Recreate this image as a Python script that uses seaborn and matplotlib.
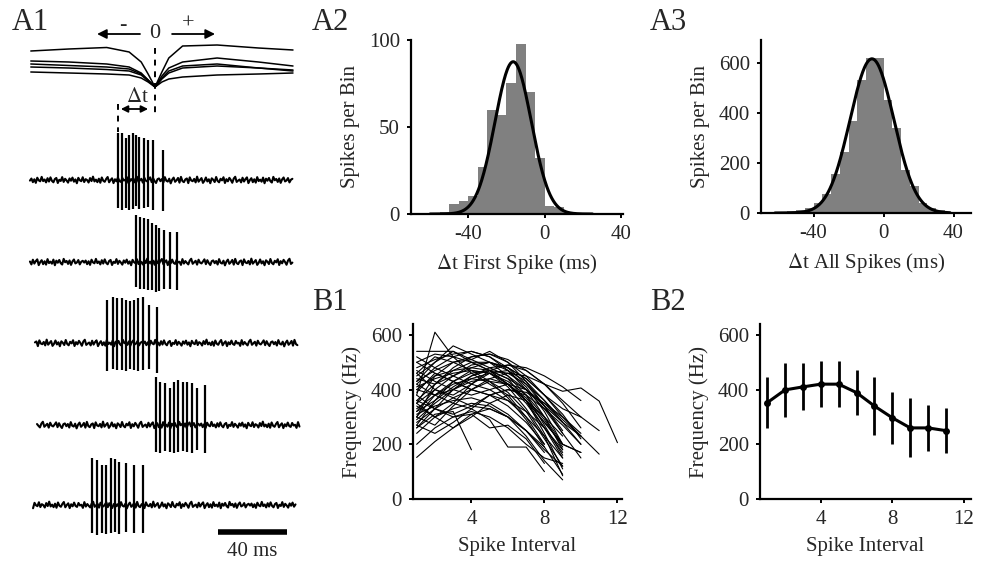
"""
Recreates the spike timing figure: raw burst traces (A1), timing
histograms with gaussian fits (A2, A3) and burst frequency profiles (B1, B2)
Outputs out.png
"""

import matplotlib.pyplot as plt
import numpy as np
import pandas as pd
import seaborn as sns

# ---- A1: stimulus-triggered waveforms (y in trace units, x in ms) ----
wave_t = [-72, -50, -28, -15, -8, -4, 0, 4, 8, 16, 36, 60, 80]
wave_a = [51, 49, 47.5, 52, 62, 74, 87, 72, 58, 46, 45, 48, 50]
wave_b = [61, 62, 64, 67, 73, 80, 87, 76, 68, 62, 58, 62, 66]
wave_c = [64, 65.5, 67, 69, 74, 80, 87, 78, 71, 66, 64, 68, 71]
wave_d = [67, 68, 69.5, 71, 75, 81, 87, 79, 73, 68, 66, 68, 70]
wave_e = [72, 73, 74, 75, 78, 82, 87, 82, 79, 77, 75, 74, 73]

# ---- A1: spike times (ms) and amplitudes for the five traces ----
spike_t1 = [-21.3, -19.3, -16.8, -14.9, -12.9, -11, -9.1, -6.4, -3.9, -1, 4.5]
spike_up1 = [47, 47, 42, 45, 47, 45, 43, 42, 40, 40, 30]
spike_dn1 = [28, 30, 28, 30, 29, 26, 29, 28, 27, 30, 31]
spike_t2 = [-11, -8.7, -6.4, -4.2, -1.9, 0.4, 2.5, 5.2, 8.7, 12.9]
spike_up2 = [47, 45, 44, 43, 39, 37, 34, 32, 30, 30]
spike_dn2 = [25, 27, 27, 28, 28, 30, 29, 27, 27, 28]
spike_t3 = [-28, -24.5, -21.8, -19.3, -16.9, -14.5, -12.2, -9.7, -6.8, -3.3, 1]
spike_up3 = [43, 46, 45, 45, 43, 42, 43, 45, 46, 38, 36]
spike_dn3 = [28, 26, 27, 27, 28, 26, 27, 28, 27, 26, 30]
spike_t4 = [0.4, 2.9, 5.8, 8.7, 11.2, 13.5, 16, 18.7, 21.3, 24.5, 29]
spike_up4 = [48, 43, 42, 37, 43, 45, 43, 43, 42, 37, 40]
spike_dn4 = [27, 28, 26, 27, 28, 27, 26, 27, 28, 25, 28]
spike_t5 = [-36.3, -33.4, -30.9, -28.4, -25.7, -23.2, -20.7, -16.8, -12.2, -6.8]
spike_up5 = [47, 45, 40, 40, 47, 46, 43, 42, 40, 40]
spike_dn5 = [28, 30, 28, 29, 28, 27, 29, 27, 28, 28]

# baseline noise (two stretches, joined end to end)
noise_a = [0.5, -1.2, 1.8, -0.6, 2.4, -1.9, 0.3, 1.1, -2.6, 0.9, -0.4, 2.0,
           -1.5, 1.3, -2.2, 0.7, 1.9, -0.8, -1.7, 2.5, -0.2, 0.8, -2.4, 1.6,
           -1.0, 0.4, 2.2, -1.3, 0.6, -2.0, 1.4, -0.5, 2.7, -1.8, 0.2, 1.0,
           -2.3, 1.7, -0.7, 0.1, 2.1, -1.6, 0.9, -2.8, 1.2, -0.3, 1.8, -1.1,
           2.3, -2.1, 0.6, 1.5, -0.9, -2.5, 1.9, 0.0, -1.4, 2.6, -0.6, 1.1,
           -2.0, 0.8, 1.6, -1.7, 0.4, -0.2, 2.4, -2.4, 1.3, -0.8, 0.7, 2.0,
           -1.2, -2.7, 1.5, 0.3, -1.0, 2.2, -1.9, 0.5, 1.2, -0.4, -2.2, 1.8,
           -1.5, 0.9, 2.5, -0.7, -1.3, 1.0]
noise_b = [-0.8, 2.1, -2.4, 0.6, 1.3, -1.1, 2.8, -0.3, -2.0, 1.5, 0.2, -1.7,
           2.2, -2.6, 0.9, 1.8, -0.5, -1.3, 2.6, -2.2, 0.4, 1.0, -0.9, 2.0,
           -2.8, 1.4, -0.1, -1.6, 2.4, 0.7, -2.1, 1.2, -0.6, 2.7, -1.4, -0.2,
           1.7, -2.5, 0.8, 1.9, -1.0, 0.3, -2.3, 2.5, -0.7, 1.1, -1.8, 0.0,
           2.3, -1.2, -2.7, 1.6, 0.5, -0.4, 2.0, -1.9, 1.3, -0.8, -2.2, 2.6,
           0.1, -1.5, 1.8, -0.6, 2.2, -2.4, 0.9, -0.3, 1.4, -2.0, 2.7, -1.1,
           0.6, -1.7, 1.0, 2.1, -2.6, 0.2, -0.9, 1.6, -1.3, 2.4, -0.5, -2.1,
           1.2, 0.4, -1.6, 2.0, -0.2, -1.0]

# ---- A2: first spike timing histogram (5 ms bins, left edges) ----
a2_bins = [-60, -55, -50, -45, -40, -35, -30, -25, -20, -15, -10, -5,
           0, 5, 10, 15, 20]
a2_counts = [0.5, 1, 5.8, 7.7, 10.6, 27, 59.6, 56.7, 75, 97.7, 70.2, 32,
             4.8, 4.2, 1, 0.6, 0.8]
a2_fit = {"amp": 87.5, "mu": -16.5, "sd": 9.5}

# ---- A3: all spikes timing histogram ----
a3_bins = [-65, -60, -55, -50, -45, -40, -35, -30, -25, -20, -15, -10, -5,
           0, 5, 10, 15, 20, 25, 30, 35]
a3_counts = [3, 5, 8, 10, 20, 40, 77, 156, 245, 368, 532, 618, 618,
             450, 338, 172, 109, 40, 20, 10, 5]
a3_fit = {"amp": 615, "mu": -6.6, "sd": 12.5}

# ---- B1: instantaneous frequency across spike intervals, one per burst ----
b1_bursts = [
    [540, 540, 540, 500, 470, 420, 360, 280, 200],
    [300, 420, 480, 520, 530, 500, 450, 380, 300, 230],
    [350, 450, 500, 510, 540, 500, 430, 340, 240],
    [420, 480, 520, 540, 520, 470, 400, 300, 180],
    [450, 500, 560, 530, 500, 450, 380, 270, 160],
    [380, 610, 520, 460, 420, 380, 300, 200],
    [320, 400, 450, 480, 500, 480, 440, 380, 330, 300, 250],
    [280, 330, 370, 400, 440, 460, 450, 420, 394, 406, 358, 206],
    [152, 210, 260, 310, 330, 300, 250, 180, 120],
    [260, 310, 320, 180],
    [400, 380, 350, 330, 290, 190, 190, 100],
    [460, 400, 380, 420, 460, 470, 430, 360, 280, 200],
    [350, 300, 350, 420, 470, 490, 470, 420, 350, 260],
    [300, 270, 340, 400, 430, 420, 360, 260, 150],
    [420, 380, 400, 440, 460, 430, 380, 300, 200, 170],
    [500, 460, 430, 400, 380, 340, 280, 200],
    [330, 380, 430, 460, 470, 440, 360, 240, 110],
    [360, 420, 470, 500, 500, 470, 410, 320, 200],
    [290, 350, 400, 430, 440, 420, 370, 290, 190],
    [460, 520, 500, 470, 430, 370, 290, 190],
    [400, 450, 470, 480, 470, 440, 400, 340, 280, 230, 164],
    [520, 480, 450, 420, 400, 360, 300, 230, 150],
    [310, 340, 360, 370, 350, 310, 250, 170],
    [240, 300, 330, 350, 340, 300, 230, 140, 70],
    [380, 330, 310, 340, 380, 400, 380, 330, 270, 200],
    [430, 470, 500, 520, 530, 510, 470, 420, 360, 300],
    [200, 260, 300, 320, 300, 260, 200, 150, 130],
    [470, 430, 400, 380, 400, 420, 400, 350, 280],
    [350, 400, 370, 340, 330, 300, 250, 190, 90],
    [270, 240, 280, 330, 380, 400, 390, 350, 300, 240],
    [410, 440, 460, 470, 460, 420, 360, 280, 200, 170],
    [360, 330, 300, 310, 260, 270, 220, 130],
    [500, 530, 520, 500, 470, 420, 350, 260, 170],
    [320, 360, 410, 450, 480, 490, 480, 450, 410, 360],
    [390, 460, 430, 400, 380, 360, 320, 260, 180],
    [440, 420, 450, 490, 500, 480, 440, 380, 310, 220],
    [300, 380, 420, 440, 430, 390, 320, 220, 120],
    [480, 510, 530, 540, 520, 480, 420, 340, 250],
    [260, 330, 400, 450, 470, 460, 420, 360, 290, 230],
    [340, 300, 260, 300, 350, 380, 360, 300, 230],
    [430, 500, 540, 510, 480, 450, 400, 330, 240, 150],
    [270, 360, 430, 470, 460, 410, 330, 230, 85],
]

# ---- B2: mean +- sd frequency per spike interval ----
b2_interval = [1, 2, 3, 4, 5, 6, 7, 8, 9, 10, 11]
b2_mean = [352, 399, 410, 420, 420, 389, 340, 297, 260, 260, 250]
b2_sd = [93, 100, 86, 85, 83, 81, 105, 95, 108, 85, 82]


def _gauss(x, amp, mu, sd):
    """fitted gaussian curve evaluated on x"""
    return amp * np.exp(-0.5 * ((x - mu) / sd) ** 2)


def _axes(fig, left, top, right, bottom):
    """add axes from pixel edges of the 988x564 canvas"""
    w, h = 988.0, 564.0
    return fig.add_axes([left / w, 1 - bottom / h,
                         (right - left) / w, (bottom - top) / h])


def _style(ax):
    sns.despine(ax=ax)
    for side in ["left", "bottom"]:
        ax.spines[side].set_linewidth(1.6)
    ax.tick_params(direction="out", length=3, width=1.4, labelsize=15,
                   pad=5, color="black")
    ax.set_facecolor("white")


def main():
    sns.set_style("ticks")
    plt.rcParams["font.family"] = ["Liberation Serif", "DejaVu Serif"]
    plt.rcParams["axes.edgecolor"] = "black"
    plt.rcParams["axes.unicode_minus"] = False
    plt.rcParams["mathtext.fontset"] = "stix"

    fig = plt.figure(figsize=(9.88, 5.64), dpi=100)

    # ----- A1 raw traces -----
    ax1 = fig.add_axes([0, 0, 310 / 988, 1])
    ax1.set_xlim(-155 / 1.725, 155 / 1.725)
    ax1.set_ylim(564, 0)
    ax1.axis("off")

    for wave in [wave_a, wave_b, wave_c, wave_d, wave_e]:
        ax1.plot(wave_t, wave, color="black", lw=1.1)

    traces = [(spike_t1, spike_up1, spike_dn1),
              (spike_t2, spike_up2, spike_dn2),
              (spike_t3, spike_up3, spike_dn3),
              (spike_t4, spike_up4, spike_dn4),
              (spike_t5, spike_up5, spike_dn5)]
    offsets = [180, 262, 343, 425, 505]
    starts = [-72.5, -72.5, -69.6, -68.4, -70.7]
    jitter = np.array(noise_a + noise_b)
    for i, (times, up, dn) in enumerate(traces):
        base = offsets[i]
        t = starts[i] + 0.85 * np.arange(len(jitter))
        ax1.plot(t, base + 1.2 * np.roll(jitter, 37 * i), color="black",
                 lw=1.5)
        ax1.vlines(times, base - np.array(up), base + np.array(dn),
                   color="black", lw=1.6)

    # direction arrows and markers
    ax1.text(0, 33, "0", ha="center", va="center", fontsize=16)
    ax1.text(-18.6, 26, "-", ha="center", va="center", fontsize=16)
    ax1.text(19.1, 24, "+", ha="center", va="center", fontsize=16)
    arrow = dict(arrowstyle="-|>", color="black", lw=1.3,
                 mutation_scale=14, shrinkA=0, shrinkB=0)
    ax1.annotate("", xy=(-33.6, 34), xytext=(-8.7, 34), arrowprops=arrow)
    ax1.annotate("", xy=(34.8, 34), xytext=(9.9, 34), arrowprops=arrow)
    ax1.plot([0, 0], [48, 115], color="black", lw=1.4, ls=(0, (3, 3)))
    ax1.plot([spike_t1[0], spike_t1[0]], [104, 132], color="black", lw=1.4,
             ls=(0, (3, 3)))
    darrow = dict(arrowstyle="<|-|>", color="black", lw=1.3,
                  mutation_scale=10, shrinkA=0, shrinkB=0)
    ax1.annotate("", xy=(spike_t1[0] + 1.5, 109), xytext=(-4, 109),
                 arrowprops=darrow)
    ax1.text(-10.4, 97, r"$\Delta$t", ha="center", va="center", fontsize=15)

    # scale bar
    ax1.plot([36.5, 76.5], [532, 532], color="black", lw=4,
             solid_capstyle="butt")
    ax1.text(56.5, 551, "40 ms", ha="center", va="center", fontsize=15)

    # ----- A2 histogram -----
    ax2 = _axes(fig, 411, 40, 623, 214)
    edges = a2_bins + [a2_bins[-1] + 5]
    centers = [b + 2.5 for b in a2_bins]
    sns.histplot(x=centers, weights=a2_counts, bins=edges, color="#808080",
                 alpha=1, linewidth=0, ax=ax2)
    xs = np.linspace(-60, 25, 300)
    ax2.plot(xs, _gauss(xs, **a2_fit), color="black", lw=2.2)
    ax2.set_xlim(-70, 41)
    ax2.set_ylim(0, 100)
    ax2.set_xticks([-40, 0, 40])
    ax2.set_yticks([0, 50, 100])
    ax2.set_xlabel(r"$\Delta$t First Spike (ms)", fontsize=15, labelpad=6)
    ax2.set_ylabel("Spikes per Bin", fontsize=15, labelpad=6)
    _style(ax2)

    # ----- A3 histogram -----
    ax3 = _axes(fig, 761, 40, 971, 213)
    edges = a3_bins + [a3_bins[-1] + 5]
    centers = [b + 2.5 for b in a3_bins]
    sns.histplot(x=centers, weights=a3_counts, bins=edges, color="#808080",
                 alpha=1, linewidth=0, ax=ax3)
    xs = np.linspace(-62, 38, 300)
    ax3.plot(xs, _gauss(xs, **a3_fit), color="black", lw=2.2)
    ax3.set_xlim(-70, 50)
    ax3.set_ylim(0, 690)
    ax3.set_xticks([-40, 0, 40])
    ax3.set_yticks([0, 200, 400, 600])
    ax3.set_xlabel(r"$\Delta$t All Spikes (ms)", fontsize=15, labelpad=6)
    ax3.set_ylabel("Spikes per Bin", fontsize=15, labelpad=6)
    _style(ax3)

    # ----- B1 individual bursts -----
    ax4 = _axes(fig, 413, 324, 622, 499)
    rows = []
    for k, burst in enumerate(b1_bursts):
        for j, f in enumerate(burst):
            rows.append({"burst": k, "interval": j + 1, "freq": f})
    b1 = pd.DataFrame(rows)
    sns.lineplot(data=b1, x="interval", y="freq", units="burst",
                 estimator=None, color="black", lw=0.8, ax=ax4)
    ax4.set_xlim(0.8, 12.25)
    ax4.set_ylim(0, 640)
    ax4.set_xticks([4, 8, 12])
    ax4.set_yticks([0, 200, 400, 600])
    ax4.set_xlabel("Spike Interval", fontsize=15, labelpad=6)
    ax4.set_ylabel("Frequency (Hz)", fontsize=15, labelpad=6)
    _style(ax4)

    # ----- B2 mean profile -----
    ax5 = _axes(fig, 760, 324, 971, 499)
    sns.lineplot(x=b2_interval, y=b2_mean, color="black", lw=2.2,
                 marker="o", markersize=5, markeredgewidth=0, ax=ax5)
    ax5.errorbar(b2_interval, b2_mean, yerr=b2_sd, fmt="none",
                 ecolor="black", elinewidth=2, capsize=0)
    ax5.set_xlim(0.6, 12.4)
    ax5.set_ylim(0, 640)
    ax5.set_xticks([4, 8, 12])
    ax5.set_yticks([0, 200, 400, 600])
    ax5.set_xlabel("Spike Interval", fontsize=15, labelpad=6)
    ax5.set_ylabel("Frequency (Hz)", fontsize=15, labelpad=6)
    _style(ax5)

    # panel letters
    for label, x, y in [("A1", 12, 23), ("A2", 312, 23), ("A3", 650, 23),
                        ("B1", 312, 303), ("B2", 650, 303)]:
        fig.text(x / 988, 1 - y / 564, label, fontsize=22, ha="left",
                 va="center")

    fig.savefig("out.png", dpi=100)


if __name__ == "__main__":
    main()
